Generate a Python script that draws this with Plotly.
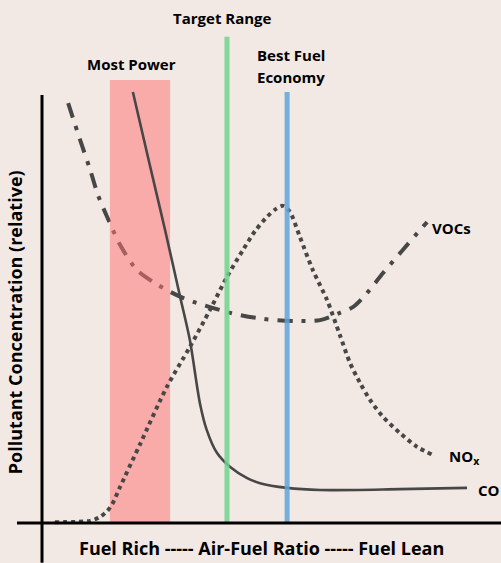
import plotly.graph_objects as go

# Relative air-fuel ratio (0-100) and relative pollutant concentration (0-100)
co_x = [19.8, 23.5, 26.8, 30.1, 32.2, 34.4, 35.9, 38.1, 41.0, 44.7, 47.5, 53.4, 60.6, 78.0, 92.6]
co_y = [100.7, 83.6, 68.5, 52.8, 42.8, 28.0, 21.7, 16.4, 13.1, 10.5, 9.3, 8.2, 7.7, 7.9, 8.2]

nox_x = [2.8, 10.5, 12.6, 14.2, 15.3, 17.0, 21.4, 27.2, 32.2, 36.6, 40.3, 43.8, 46.4, 49.0, 51.0,
         52.5, 54.0, 56.2, 59.0, 62.1, 64.9, 67.1, 69.3, 71.5, 74.3, 78.0, 81.7, 85.2]
nox_y = [0.2, 0.5, 1.4, 2.8, 4.4, 8.4, 18.5, 31.8, 41.1, 49.8, 57.5, 63.8, 68.2, 71.5, 73.4,
         74.1, 72.7, 66.8, 59.1, 52.1, 43.9, 37.4, 32.7, 28.7, 24.8, 21.0, 17.8, 15.9]

voc_x = [5.7, 8.3, 10.5, 12.2, 14.2, 17.0, 20.7, 25.3, 30.7, 41.0, 48.1, 55.1, 60.6, 64.9, 67.8,
         70.8, 74.3, 78.6, 82.4, 83.9]
voc_y = [98.1, 89.5, 82.5, 76.6, 71.5, 65.0, 59.1, 55.6, 52.6, 49.1, 47.7, 47.2, 47.4, 49.1, 50.5,
         53.7, 58.4, 63.8, 68.5, 70.3]

power_range = [14.8, 27.9]
power_top = 103.5
target_x = 40.3
target_top = 113.6
economy_x = 53.4
economy_top = 100.7
axis_top = 100.0

BG = "#f2e8e4"
INK = "#474747"
FONT = "Open Sans"

fig = go.Figure()

fig.add_trace(go.Scatter(x=voc_x, y=voc_y, mode="lines",
                         line=dict(color=INK, width=4, dash="15px,9px,4px,9px", shape="spline", smoothing=0.8),
                         hoverinfo="skip", showlegend=False))

# Most Power band
fig.add_trace(go.Scatter(x=[power_range[0], power_range[1], power_range[1], power_range[0], power_range[0]],
                         y=[0, 0, power_top, power_top, 0], mode="lines", fill="toself",
                         fillcolor="rgba(255,115,115,0.52)", line=dict(width=0),
                         hoverinfo="skip", showlegend=False))

fig.add_trace(go.Scatter(x=nox_x, y=nox_y, mode="lines",
                         line=dict(color=INK, width=4, dash="4px,4px", shape="spline", smoothing=0.8),
                         hoverinfo="skip", showlegend=False))

fig.add_trace(go.Scatter(x=co_x, y=co_y, mode="lines",
                         line=dict(color=INK, width=2.6, shape="spline", smoothing=0.8),
                         hoverinfo="skip", showlegend=False))

# Reference lines
fig.add_shape(type="line", x0=target_x, x1=target_x, y0=0, y1=target_top,
              line=dict(color="rgba(110,212,140,0.85)", width=5), layer="above")
fig.add_shape(type="line", x0=economy_x, x1=economy_x, y0=0, y1=economy_top,
              line=dict(color="rgba(95,165,220,0.85)", width=5), layer="above")

# Axes
fig.add_shape(type="line", x0=0, x1=0, y0=-9.3, y1=axis_top, line=dict(color="black", width=3), layer="above")
fig.add_shape(type="line", x0=-5.45, x1=100, y0=0, y1=0, line=dict(color="black", width=3), layer="above")

def label(text, x, y, size=15, xanchor="center", angle=0):
    fig.add_annotation(text=text, x=x, y=y, xref="x", yref="y", showarrow=False,
                       xanchor=xanchor, yanchor="middle", textangle=angle,
                       font=dict(family=FONT, size=size, color="black", weight="bold"))

label("Target Range", 39.4, 118.0)
label("Most Power", 19.6, 107.2)
label("Best Fuel", 54.2, 109.3)
label("Economy", 54.2, 104.2)
label("VOCs", 84.5, 68.9, xanchor="left")
label("NO<sub>x</sub>", 88.2, 15.4, xanchor="left")
label("CO", 94.6, 7.7, xanchor="left")
label("Fuel Rich ----- Air-Fuel Ratio ----- Fuel Lean", 47.9, -5.8, size=18)
label("Pollutant Concentration (relative)", -5.9, 46.9, size=18, angle=-90)

fig.update_layout(
    width=501, height=563,
    margin=dict(l=0, r=0, t=0, b=0),
    paper_bgcolor=BG, plot_bgcolor=BG,
    xaxis=dict(range=[-9.15, 100], visible=False, fixedrange=True),
    yaxis=dict(range=[-9.35, 122.2], visible=False, fixedrange=True),
    showlegend=False,
)

fig.write_html(
    "out.html",
    config={"displayModeBar": False},
    post_script="document.body.style.margin='0px';document.body.style.padding='0px';"
                "document.body.style.background='" + BG + "';",
)
